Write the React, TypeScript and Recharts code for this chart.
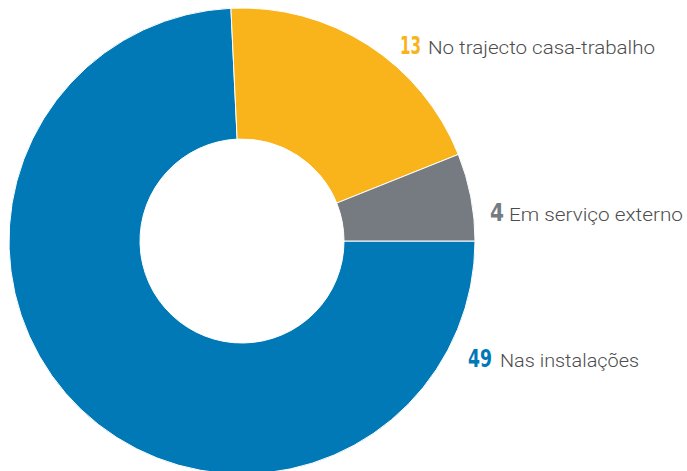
import { Cell, Pie, PieChart } from 'recharts';

const categories = ['Nas instalações', 'No trajecto casa-trabalho', 'Em serviço externo'];
const values = [49, 13, 4];
const colors = ['#0079B6', '#F8B41A', '#767B82'];

// label placement relative to the pie centre (layout only)
const labelLayout = [
  { dx: 226, dy: 126, numWidth: 24, gap: 8, textWidth: 139 },
  { dx: 158, dy: -187, numWidth: 21, gap: 7, textWidth: 227 },
  { dx: 248, dy: -20, numWidth: 14, gap: 5, textWidth: 174 },
];

const NUM_SCALE = 0.62;

const data = categories.map((name, i) => ({ name, value: values[i] }));

function renderLabel(props: any) {
  const { cx, cy, index } = props;
  const l = labelLayout[index];
  const x = cx + l.dx;
  const y = cy + l.dy;
  return (
    <g key={`lbl-${index}`}>
      <text
        x={0}
        y={0}
        transform={`translate(${x},${y}) scale(${NUM_SCALE},1)`}
        fill={colors[index]}
        fontFamily="'DejaVu Sans', sans-serif"
        fontWeight={700}
        fontSize={24}
        textLength={l.numWidth / NUM_SCALE}
        lengthAdjust="spacingAndGlyphs"
      >
        {values[index]}
      </text>
      <text
        x={x + l.numWidth + l.gap}
        y={y}
        fill="#4D4D4D"
        fontFamily="Roboto, sans-serif"
        fontWeight={300}
        fontSize={18}
        textLength={l.textWidth}
        lengthAdjust="spacingAndGlyphs"
      >
        {categories[index]}
      </text>
    </g>
  );
}

export default function App() {
  return (
    <div style={{ position: 'fixed', left: 0, top: 0, width: 687, height: 471, background: '#fff' }}>
      <PieChart width={687} height={471} margin={{ top: 0, right: 0, bottom: 0, left: 0 }}>
        <Pie
          data={data}
          dataKey="value"
          nameKey="name"
          cx={242}
          cy={241}
          innerRadius={102}
          outerRadius={233}
          startAngle={0}
          endAngle={-360}
          stroke="#ffffff"
          strokeWidth={1}
          label={renderLabel}
          labelLine={false}
          isAnimationActive={false}
        >
          {data.map((entry, i) => (
            <Cell key={entry.name} fill={colors[i]} />
          ))}
        </Pie>
      </PieChart>
    </div>
  );
}
